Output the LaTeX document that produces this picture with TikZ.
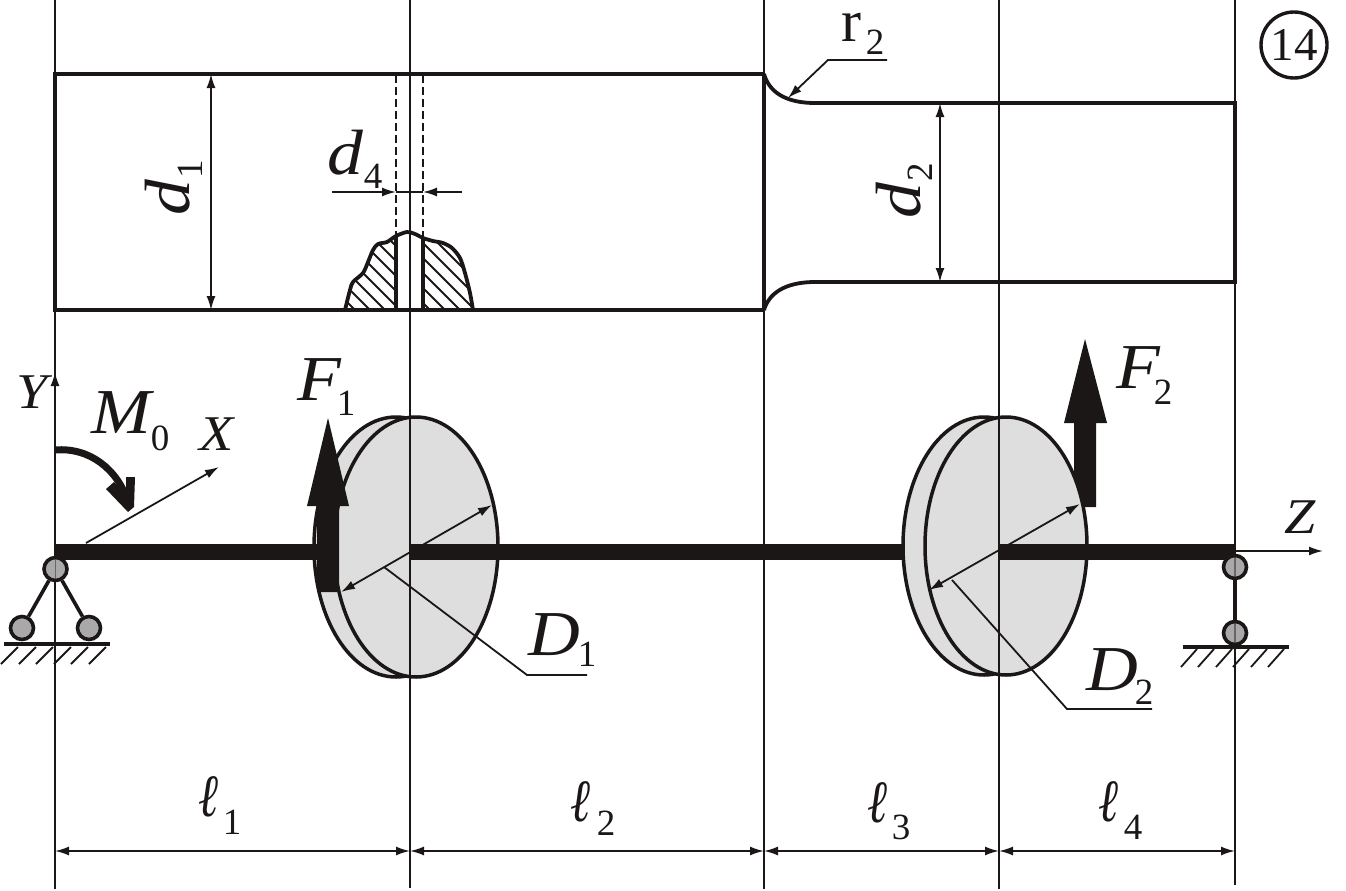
\documentclass[tikz,border=0pt]{standalone}
\usepackage{fontspec}
\setmainfont{Liberation Serif}[ItalicFeatures={FakeStretch=1.12}]
\newfontfamily\ellfont{Liberation Serif}[ItalicFeatures={FakeStretch=.8}]
\usetikzlibrary{arrows.meta}
\definecolor{ink}{HTML}{1A1716}
\definecolor{discgray}{HTML}{DEDEDE}
\definecolor{pingray}{HTML}{A9A9A9}
\tikzset{
  thin line/.style={ink,line width=1.8pt},
  body line/.style={ink,line width=3.8pt},
  dim line/.style={ink,line width=1.8pt,{Latex[length=14pt,width=9pt]}-{Latex[length=14pt,width=9pt]}},
  one tip/.style={ink,line width=1.8pt,-{Latex[length=14pt,width=9pt]}},
  thick shaft/.style={ink,line width=16pt},
  disc/.style={ink,line width=3.5pt,fill=discgray},
  pin/.style={circle,draw=ink,line width=3.6pt,fill=pingray,minimum size=23pt,inner sep=0pt},
  big/.style={inner sep=0pt,font=\fontsize{64}{64}\selectfont\itshape,text=ink},
  mid/.style={inner sep=0pt,font=\fontsize{50}{50}\selectfont\itshape,text=ink},
  sub/.style={inner sep=0pt,font=\fontsize{37}{37}\selectfont,text=ink},
  ground/.style={ink,line width=1.8pt},
  lenlabel/.style={inner sep=0pt,text=ink,font=\fontsize{60}{60}\selectfont\ellfont\itshape},
}
\begin{document}
\begin{tikzpicture}[x=1pt,y=-1pt]
\useasboundingbox (0,0) rectangle (1346,891);
% named reference points
\coordinate (aT) at (55,0);    \coordinate (aB) at (55,889);    \coordinate (aD) at (55,851);
\coordinate (bT) at (410,0);   \coordinate (bB) at (410,888);   \coordinate (bD) at (410,851);
\coordinate (cT) at (764,0);   \coordinate (cB) at (764,889);   \coordinate (cD) at (764,851);
\coordinate (eT) at (999,0);   \coordinate (eB) at (999,889);   \coordinate (eD) at (999,851);
\coordinate (fT) at (1235,0);  \coordinate (fB) at (1235,885);  \coordinate (fD) at (1235,851);
% upper stepped shaft
\draw[body line,line join=miter] (764,74) -- (55,74) -- (55,310) -- (764,310);
\draw[body line] (764,74) -- (764,310);
\draw[body line,line join=miter] (764,74) .. controls (770,95) and (790,103) .. (815,103) -- (1235,103) -- (1235,282) -- (815,282) .. controls (790,282) and (770,290) .. (764,310);
% section hatching
\begin{scope}
\clip plot[smooth,tension=.5] coordinates {(345,310) (350,290) (353,282) (363,273) (368,262) (373,250) (378,244) (387,242) (396,236)} -- (396,310) -- cycle;
\foreach \k in {-6,...,10}{\draw[thin line] (300+\k*15,210) -- (430+\k*15,340);}
\end{scope}
\begin{scope}
\clip plot[smooth,tension=.5] coordinates {(423,238) (433,241) (443,243) (452,248) (460,258) (465,273) (470,293) (473,310)} -- (423,310) -- cycle;
\foreach \k in {-6,...,10}{\draw[thin line] (330+\k*15,210) -- (460+\k*15,340);}
\end{scope}
\draw[body line] plot[smooth,tension=.5] coordinates {(345,310) (350,290) (353,282) (363,273) (368,262) (373,250) (378,244) (387,242) (396,236) (407,232) (415,234) (423,238) (433,241) (443,243) (452,248) (460,258) (465,273) (470,293) (473,310)};
\draw[body line] (396,237) -- (396,310);
\draw[body line] (423,238) -- (423,310);
\draw[thin line,dash pattern=on 8pt off 4pt] (396,75) -- (396,236);
\draw[thin line,dash pattern=on 8pt off 4pt] (423,75) -- (423,238);
% F2 under the disc
\fill[ink] (1074,507) -- (1074,423) -- (1064,423) -- (1085,339) -- (1107,423) -- (1096,423) -- (1096,507) -- cycle;
% discs
\draw[disc] (396,547) ellipse [x radius=82,y radius=130];
\draw[disc] (416,547) ellipse [x radius=82,y radius=130];
\draw[disc] (984,546) ellipse [x radius=81,y radius=129];
\draw[disc] (1006,546) ellipse [x radius=81,y radius=129];
% long vertical lines
\draw[thin line] (aT) -- (aB);
\draw[thin line] (bT) -- (bB);
\draw[thin line] (cT) -- (cB);
\draw[thin line] (eT) -- (eB);
\draw[thin line] (fT) -- (fB);
% solid shaft segments
\draw[thick shaft] (55,551.5) -- (320,551.5);
\draw[thick shaft] (410,551.5) -- (903,551.5);
\draw[thick shaft] (999,551.5) -- (1235,551.5);
% F1
\fill[ink] (317,592) -- (317,506) -- (307,506) -- (328,418) -- (349,506) -- (339,506) -- (339,592) -- cycle;
% axes
\coordinate (Ystart) at (55,420);
\coordinate (Yend) at (55,372);
\coordinate (Xstart) at (86,543);
\coordinate (Xend) at (219,467);
\coordinate (Zstart) at (1235,551);
\coordinate (Zend) at (1323,551);
\draw[one tip] (Ystart) -- (Yend);
\draw[one tip] (Xstart) -- (Xend);
\draw[one tip] (Zstart) -- (Zend);
% moment
\draw[ink,line width=7pt] (55,450) .. controls (90,447) and (118,470) .. (128,502);
\fill[ink] (106,489) -- (114,482) -- (126,494) -- (126,477) -- (135,477) -- (134,507) -- (128,512) -- cycle;
% diameter arrows and leaders
\coordinate (D1a) at (492,505);
\coordinate (D1b) at (341,592);
\draw[dim line] (D1b) -- (D1a);
\coordinate (D2a) at (1080,504);
\coordinate (D2b) at (929,590);
\draw[dim line] (D2b) -- (D2a);
\coordinate (L1a) at (384,567);
\coordinate (L1b) at (527,675);
\coordinate (L1c) at (587,675);
\draw[thin line] (L1a) -- (L1b) -- (L1c);
\coordinate (L2a) at (952,580);
\coordinate (L2b) at (1067,709);
\coordinate (L2c) at (1152,709);
\draw[thin line] (L2a) -- (L2b) -- (L2c);
% r2 leader
\coordinate (Ra) at (887,60);
\coordinate (Rb) at (828,60);
\coordinate (Rc) at (788,98);
\draw[one tip] (Ra) -- (Rb) -- (Rc);
% supports
\node[pin] (p1) at (55.5,569) {};
\node[pin] (p2) at (22,628) {};
\node[pin] (p3) at (89,628) {};
\node[pin] (p4) at (1235,567) {};
\node[pin] (p5) at (1235,633) {};
\draw[ink,line width=3.6pt] (p1) -- (p2);
\draw[ink,line width=3.6pt] (p1) -- (p3);
\draw[ink,line width=3.6pt] (p4) -- (p5);
\draw[ink,opacity=.45,line width=1.4pt] (p1.north) -- (p1.south);
\draw[ink,opacity=.45,line width=1.4pt] (p4.north) -- (p4.south);
\draw[ink,opacity=.45,line width=1.4pt] (p5.north) -- (p5.south);
\draw[ink,line width=3.4pt] (4,644) -- (110,644);
\draw[ink,line width=3.4pt] (1183,647) -- (1289,647);
\foreach \x in {18,36,53,71,88,106}{\draw[ground] (\x,647) -- (\x-17,664);}
\foreach \x in {1197,1214,1232,1249,1267,1284}{\draw[ground] (\x,649) -- (\x-16,667);}
% dimensions upper
\coordinate (d1a) at (211,74);
\coordinate (d1b) at (211,310);
\draw[dim line] (d1a) -- (d1b);
\coordinate (d2a) at (940,103);
\coordinate (d2b) at (940,282);
\draw[dim line] (d2a) -- (d2b);
\coordinate (d4a) at (332,192);
\coordinate (d4b) at (396,192);
\coordinate (d4c) at (423,192);
\coordinate (d4d) at (462,192);
\draw[one tip] (d4a) -- (d4b);
\draw[one tip] (d4d) -- (d4c);
\draw[thin line] (d4b) -- (d4c);
% lower dimensions
\draw[dim line] (aD) -- (bD);
\draw[dim line] (bD) -- (cD);
\draw[dim line] (cD) -- (eD);
\draw[dim line] (eD) -- (fD);
% 14 mark
\node[circle,draw=ink,line width=3.4pt,minimum size=66pt,inner sep=0pt,font=\fontsize{47}{47}\selectfont,text=ink] (mark) at (1294,45) {14};
% labels
\node[big,rotate=90] (ld1) at (168,198) {d};
\node[sub,rotate=90] (ld1s) at (190,169) {1};
\node[big,rotate=90] (ld2) at (899,201) {d};
\node[sub,rotate=90] (ld2s) at (920,172) {2};
\node[big] (ld4) at (345,153) {d};
\node[sub] (ld4s) at (373,176) {4};
\node[big] (lF1) at (319,380) {F};
\node[sub] (lF1s) at (346,403) {1};
\node[big] (lF2) at (1138,368) {F};
\node[sub] (lF2s) at (1163,392) {2};
\node[big] (lM) at (121,413) {M};
\node[sub] (lMs) at (160,438) {0};
\node[mid] (lX) at (217,434) {X};
\node[mid] (lY) at (32,392) {Y};
\node[mid] (lZ) at (1300,517) {Z};
\node[big] (lD1) at (554,635) {D};
\node[sub] (lD1s) at (587,654) {1};
\node[big] (lD2) at (1112,670) {D};
\node[sub] (lD2s) at (1144,692) {2};
\node[inner sep=0pt,font=\fontsize{60}{60}\selectfont,text=ink] (lr) at (851,27) {r};
\node[sub] (lrs) at (875,42) {2};
\node[lenlabel] (ll1) at (208,797) {ℓ};
\node[sub] (ll1s) at (232,822) {1};
\node[lenlabel] (ll2) at (580,802) {ℓ};
\node[sub] (ll2s) at (606,823) {2};
\node[lenlabel] (ll3) at (877,803) {ℓ};
\node[sub] (ll3s) at (901,827) {3};
\node[lenlabel] (ll4) at (1108,802) {ℓ};
\node[sub] (ll4s) at (1133,827) {4};
\end{tikzpicture}
\end{document}
